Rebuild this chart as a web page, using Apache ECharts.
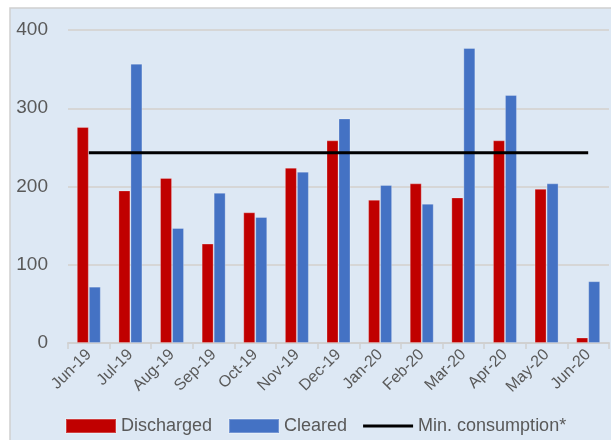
<!DOCTYPE html>
<html>
<head>
<meta charset="utf-8">
<script src="https://cdn.jsdelivr.net/npm/echarts@6/dist/echarts.min.js"></script>
<style>
  html, body { margin: 0; padding: 0; background: #ffffff; }
  #chart { width: 611px; height: 440px; }
</style>
</head>
<body>
<div id="chart"></div>
<script>
// Monthly volumes, Jun-19 to Jun-20
const months = ['Jun-19', 'Jul-19', 'Aug-19', 'Sep-19', 'Oct-19', 'Nov-19', 'Dec-19',
                'Jan-20', 'Feb-20', 'Mar-20', 'Apr-20', 'May-20', 'Jun-20'];
const discharged = [276, 195, 211, 127, 167, 224, 259, 183, 204, 186, 259, 197, 7];
const cleared = [72, 357, 147, 192, 161, 219, 287, 202, 178, 377, 317, 204, 79];
const minConsumption = [243, 243, 243, 243, 243, 243, 243, 243, 243, 243, 243, 243, 243];
const yTicks = [0, 100, 200, 300, 400];

const textColor = '#595959';
const fontFamily = '"Liberation Sans", Arial, sans-serif';

const chart = echarts.init(document.getElementById('chart'));
chart.setOption({
  backgroundColor: '#ffffff',
  animation: false,
  textStyle: { fontFamily: fontFamily },
  graphic: [{
    type: 'rect',
    z: -10,
    shape: { x: 10, y: 8, width: 640, height: 460 },
    style: { fill: '#dde8f4', stroke: '#d0d0d0', lineWidth: 1.5 }
  }],
  grid: { left: 68, right: 2, top: 30, bottom: 97, containLabel: false },
  legend: {
    bottom: 0,
    left: 60,
    itemWidth: 50,
    itemHeight: 14,
    itemGap: 16,
    icon: 'rect',
    textStyle: { color: textColor, fontSize: 18, fontFamily: fontFamily },
    data: [
      { name: 'Discharged', icon: 'rect' },
      { name: 'Cleared', icon: 'rect' },
      { name: 'Min. consumption*', icon: 'path://M0,0 L50,0 L50,3.2 L0,3.2 Z' }
    ]
  },
  xAxis: {
    type: 'category',
    data: months,
    boundaryGap: true,
    axisLine: { show: true, lineStyle: { color: '#d0d0d0', width: 2 } },
    axisTick: { show: true, length: 6, interval: 0, lineStyle: { color: '#d0d0d0', width: 1.5 } },
    axisLabel: {
      interval: 0,
      rotate: 45,
      color: textColor,
      fontSize: 16,
      margin: 9,
      fontFamily: fontFamily
    }
  },
  yAxis: {
    type: 'value',
    min: yTicks[0],
    max: yTicks[yTicks.length - 1],
    interval: 100,
    axisLine: { show: false },
    axisTick: { show: false },
    axisLabel: { color: textColor, fontSize: 19, margin: 20, fontFamily: fontFamily },
    splitLine: { lineStyle: { color: '#d6d6d6', width: 2 } }
  },
  series: [
    {
      name: 'Discharged',
      type: 'bar',
      data: discharged,
      barWidth: 12,
      barGap: '0%',
      itemStyle: { color: '#c00000', borderColor: 'rgba(255,255,255,0.25)', borderWidth: 1 }
    },
    {
      name: 'Cleared',
      type: 'bar',
      data: cleared,
      barWidth: 12,
      itemStyle: { color: '#4472c4', borderColor: 'rgba(255,255,255,0.25)', borderWidth: 1 }
    },
    {
      name: 'Min. consumption*',
      type: 'line',
      data: minConsumption,
      symbol: 'none',
      z: 5,
      lineStyle: { color: '#000000', width: 3 },
      itemStyle: { color: '#000000' }
    }
  ]
});
</script>
</body>
</html>
